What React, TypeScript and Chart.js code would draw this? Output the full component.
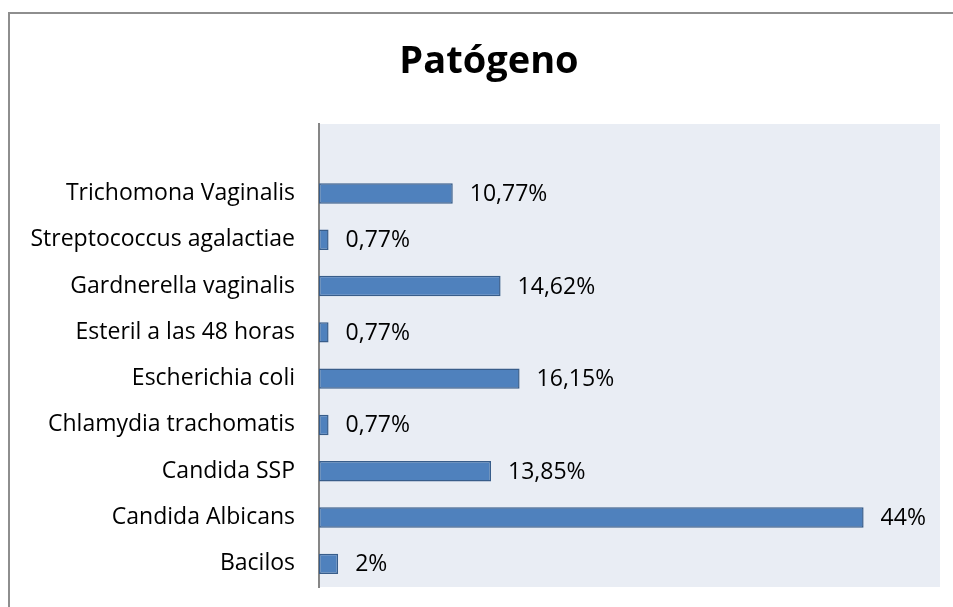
import React, { useEffect, useRef } from "react";
import { Chart, registerables } from "chart.js";

Chart.register(...registerables);

const titleText = "Patógeno";
const categories = [
  "",
  "Trichomona Vaginalis",
  "Streptococcus agalactiae",
  "Gardnerella vaginalis",
  "Esteril a las 48 horas",
  "Escherichia coli",
  "Chlamydia trachomatis",
  "Candida SSP",
  "Candida Albicans",
  "Bacilos",
];
const values = [null, 10.77, 0.77, 14.62, 0.77, 16.15, 0.77, 13.85, 43.85, 1.54];
const valueLabels = ["", "10,77%", "0,77%", "14,62%", "0,77%", "16,15%", "0,77%", "13,85%", "44%", "2%"];
const xMin = 0;
const xMax = 50;

const FONT = "'Open Sans', 'Noto Sans', sans-serif";

export default function App() {
  const ref = useRef<HTMLCanvasElement | null>(null);

  useEffect(() => {
    if (!ref.current) return;
    const bgPlugin = {
      id: "plotBg",
      beforeDraw(chart: any) {
        const { ctx, chartArea } = chart;
        ctx.save();
        ctx.fillStyle = "#E9EDF4";
        ctx.fillRect(chartArea.left, chartArea.top, chartArea.right - chartArea.left, chartArea.bottom - chartArea.top);
        ctx.restore();
      },
    };
    const titlePlugin = {
      id: "customTitle",
      afterDraw(chart: any) {
        const { ctx } = chart;
        ctx.save();
        ctx.fillStyle = "#000";
        ctx.font = `bold 38px ${FONT}`;
        ctx.textAlign = "center";
        ctx.textBaseline = "alphabetic";
        ctx.fillText(titleText, 489, 73);
        ctx.restore();
      },
    };
    const labelPlugin = {
      id: "valueLabels",
      afterDatasetsDraw(chart: any) {
        const { ctx } = chart;
        const meta = chart.getDatasetMeta(0);
        ctx.save();
        ctx.fillStyle = "#000";
        ctx.font = `23px ${FONT}`;
        ctx.textAlign = "left";
        ctx.textBaseline = "middle";
        meta.data.forEach((bar: any, i: number) => {
          if (values[i] == null) return;
          ctx.fillText(valueLabels[i], bar.x + 17, bar.y + 1);
        });
        ctx.restore();
      },
    };
    const chart = new Chart(ref.current, {
      type: "bar",
      data: {
        labels: categories,
        datasets: [
          {
            data: values as any,
            backgroundColor: "#4F81BD",
            borderColor: "#385D8A",
            borderWidth: 1.5,
            borderSkipped: false,
            barPercentage: 0.44,
            categoryPercentage: 1,
          },
        ],
      },
      options: {
        indexAxis: "y",
        animation: false,
        responsive: false,
        layout: { padding: { top: 124, bottom: 20, right: 13, left: 0 } },
        plugins: {
          legend: { display: false },
          title: { display: false },
          tooltip: { enabled: false },
        },
        scales: {
          x: { display: false, min: xMin, max: xMax },
          y: {
            grid: { display: false, drawTicks: false },
            border: { display: true, color: "#868686", width: 2 },
            ticks: {
              color: "#000",
              padding: 24,
              font: { family: FONT, size: 23 },
              autoSkip: false,
            },
            afterFit(scale: any) {
              scale.width = 319;
              scale.paddingTop = 0;
              scale.paddingBottom = 0;
            },
          },
        },
      },
      plugins: [bgPlugin, labelPlugin, titlePlugin],
    });
    return () => chart.destroy();
  }, []);

  return (
    <div style={{ position: "fixed", left: 0, top: 0, width: 953, height: 607, overflow: "hidden", background: "#fff" }}>
      <div
        style={{
          position: "absolute",
          left: 8,
          top: 12,
          width: 1000,
          height: 700,
          border: "2px solid #8E8E8E",
          boxSizing: "border-box",
        }}
      />
      <canvas ref={ref} width={953} height={607} style={{ position: "absolute", left: 0, top: 0, width: 953, height: 607 }} />
    </div>
  );
}
